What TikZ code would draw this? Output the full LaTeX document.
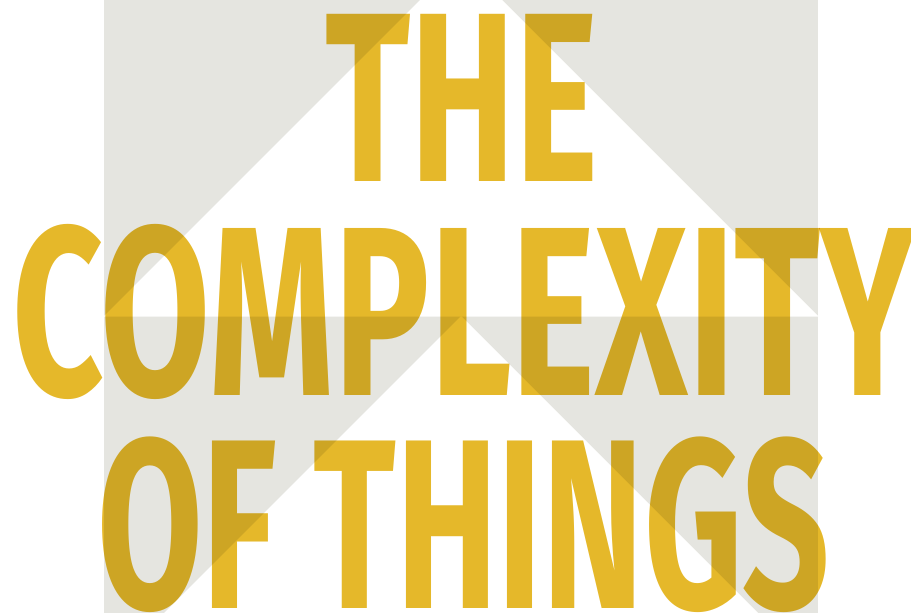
\documentclass[tikz,border=0pt]{standalone}
\usepackage{fontspec}
\usepackage{xcolor}
\usetikzlibrary{positioning}
\newfontfamily\titlefont{Fira Sans}
\definecolor{paneGrey}{HTML}{E5E5E0}
\definecolor{titleGold}{HTML}{E5B82A}

\begin{document}
\begin{tikzpicture}[x=1pt,y=-1pt,
    titleline/.style={anchor=base west, inner sep=0pt, text=titleGold, font=\titlefont\bfseries}]
\useasboundingbox (0,0) rectangle (911,613);
\clip (0,0) rectangle (911,613);
% grey panel with the two white chevrons
\fill[paneGrey] (104,0) rectangle (818,613);
\fill[white] (104,316) -- (461,-41) -- (818,316) -- cycle;
\fill[white] (161,616) -- (461,316) -- (761,616) -- cycle;
\draw[white, opacity=0.6, line width=0.8pt] (104,316) -- (818,316);
% title, darkened where it crosses the panel
\begin{scope}[blend mode=multiply]
\node[titleline] (the) at (325,181) {\resizebox{273pt}{167pt}{THE}};
\node[titleline] (complexity) at (12,395) {\resizebox{903pt}{171pt}{COMPLEXITY}};
\node[titleline] (things) at (97,608.5) {\resizebox{733pt}{171.5pt}{OF THINGS}};
\end{scope}
\end{tikzpicture}
\end{document}
